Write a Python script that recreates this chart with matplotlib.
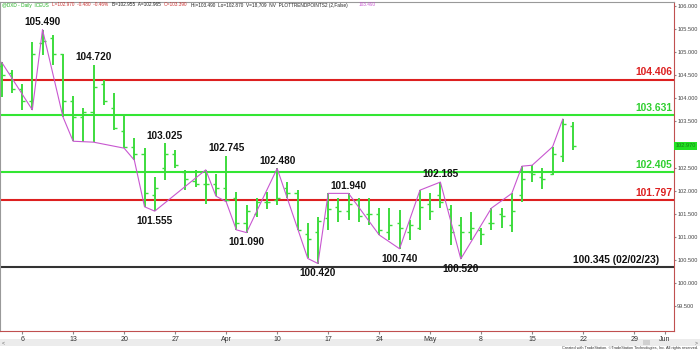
import numpy as np
import pandas as pd
import matplotlib
matplotlib.use('Agg')
import matplotlib.pyplot as plt
import matplotlib.transforms as mtransforms
from matplotlib.patches import Rectangle
from matplotlib.text import Annotation

plt.rcParams['font.family'] = ['Liberation Sans', 'DejaVu Sans']

# daily bars, 2023-03-02 .. 2023-05-19
first_day = '2023-03-02'
last_slot = '2023-06-01'
highs = [104.78, 104.61, 104.30, 105.23, 105.49, 105.37, 104.97, 104.05, 103.79, 104.72,
         104.40, 104.11, 103.66, 103.13, 102.92, 102.30, 103.025, 102.88, 102.45, 102.45,
         102.45, 102.35, 102.745, 101.96, 101.68, 101.83, 101.98, 102.48, 102.19, 102.01,
         101.29, 101.42, 101.94, 101.83, 101.94, 101.83, 101.83, 101.62, 101.62, 101.58,
         101.36, 102.01, 101.94, 102.185, 101.69, 101.43, 101.54, 101.18, 101.62, 101.62,
         101.94, 102.53, 102.55, 102.50, 102.95, 103.55, 103.49]
lows = [104.03, 104.11, 103.75, 103.75, 104.94, 104.72, 103.60, 103.07, 103.06, 103.05,
        103.85, 103.31, 102.92, 102.66, 101.65, 101.555, 102.23, 102.48, 102.01, 102.08,
        101.72, 101.88, 101.76, 101.15, 101.09, 101.42, 101.60, 101.68, 101.83, 101.15,
        100.53, 100.42, 101.15, 101.33, 101.36, 101.33, 101.25, 101.04, 100.93, 100.74,
        100.93, 101.15, 101.36, 101.62, 100.82, 100.52, 100.93, 100.82, 101.15, 101.18,
        101.11, 101.76, 102.19, 102.03, 102.34, 102.63, 102.87]
opens = [104.70, 104.55, 104.20, 103.95, 105.20, 105.30, 104.95, 103.95, 103.60, 103.70,
         104.30, 103.80, 103.30, 102.95, 102.80, 101.90, 102.50, 102.80, 102.40, 102.20,
         102.15, 102.15, 102.05, 101.85, 101.30, 101.50, 101.75, 101.80, 102.05, 101.95,
         101.05, 101.10, 101.40, 101.65, 101.55, 101.80, 101.50, 101.50, 101.10, 101.30,
         101.10, 101.20, 101.70, 101.90, 101.60, 101.25, 101.10, 101.15, 101.30, 101.50,
         101.25, 101.90, 102.40, 102.30, 102.35, 102.75, 103.39]
closes = [104.50, 104.20, 103.95, 104.95, 105.25, 104.95, 103.95, 103.60, 103.70, 104.25,
          103.95, 103.35, 102.95, 102.80, 101.95, 102.05, 102.80, 102.55, 102.25, 102.15,
          102.15, 102.05, 101.80, 101.30, 101.55, 101.75, 101.75, 101.85, 101.95, 101.15,
          100.95, 101.35, 101.60, 101.55, 101.70, 101.45, 101.50, 101.15, 101.25, 101.20,
          101.25, 101.65, 101.55, 101.75, 101.10, 101.10, 101.20, 101.05, 101.30, 101.45,
          101.55, 102.25, 102.35, 102.25, 102.80, 103.45, 102.97]

# swing line (bar index, H/L)
zz_idx = [0, 3, 4, 6, 7, 9, 12, 13, 14, 15, 20, 21, 22, 23, 24, 27, 30, 31, 32, 34,
          37, 39, 41, 43, 45, 48, 50, 51, 52, 54, 55]
zz_side = ['H', 'L', 'H', 'L', 'L', 'L', 'L', 'L', 'L', 'L', 'H', 'L', 'L', 'L', 'L', 'H',
           'L', 'L', 'H', 'H', 'L', 'L', 'H', 'H', 'L', 'H', 'H', 'H', 'H', 'H', 'H']

# swing labels
lab_idx = [4, 9, 16, 15, 22, 24, 27, 31, 34, 39, 43, 45]
lab_side = ['H', 'H', 'H', 'L', 'H', 'L', 'H', 'L', 'H', 'L', 'H', 'L']

# horizontal levels
levels = [104.406, 103.631, 102.405, 101.797, 100.345]
level_text = ['104.406', '103.631', '102.405', '101.797', '100.345 (02/02/23)']
level_col = ['#dd2020', '#33e633', '#33e633', '#dd2020', '#333333']
level_txtcol = ['#dd2020', '#2fcf2f', '#2fcf2f', '#dd2020', '#111111']

tick_dates = ['2023-03-06', '2023-03-13', '2023-03-20', '2023-03-27', '2023-04-03',
              '2023-04-10', '2023-04-17', '2023-04-24', '2023-05-01', '2023-05-08',
              '2023-05-15', '2023-05-22', '2023-05-29', '2023-06-01']
tick_labels = ['6', '13', '20', '27', 'Apr', '10', '17', '24', 'May', '8', '15', '22', '29', 'Jun']
price_ticks = [99.5, 100.0, 100.5, 101.0, 101.5, 102.0, 102.5, 103.0, 103.5, 104.0,
               104.5, 105.0, 105.5, 106.0]
last_price = 102.970

header_parts = ['@DXD - Daily  ICEUS', 'L=102.970  -0.480  -0.46%', 'B=102.955  A=102.965',
                'O=103.390', 'Hi=103.490  Lo=102.870  V=18,709  NV  PLOTTRENDPOINTS2 (2,False)',
                '103.490']
header_cols = ['#22b022', '#cc3333', '#222222', '#cc3333', '#222222', '#c857d0']

days = pd.bdate_range(first_day, last_slot)
x = np.arange(len(highs))
H = np.array(highs)
L = np.array(lows)

fig = plt.figure(figsize=(7.0, 3.51), dpi=100)
ax = fig.add_axes([0, 20 / 351, 674 / 700, 329 / 351])

# OHLC bars
bar_col = '#3ddc3d'
ax.vlines(x, L, H, color=bar_col, lw=1.4, zorder=3)
ax.hlines(opens, x - 0.3, x, color=bar_col, lw=1.0, zorder=3)
ax.hlines(closes, x, x + 0.3, color=bar_col, lw=1.0, zorder=3)

for lv, c in zip(levels, level_col):
    ax.axhline(lv, color=c, lw=1.5, zorder=2)

zz_y = [H[i] if s == 'H' else L[i] for i, s in zip(zz_idx, zz_side)]
ax.plot(zz_idx, zz_y, color='#c857d0', lw=0.8, zorder=4)

for i, s in zip(lab_idx, lab_side):
    if s == 'H':
        ax.annotate('%.3f' % H[i], (i, H[i]), xytext=(0, 2), textcoords='offset points',
                    ha='center', va='bottom', fontsize=7.2, fontweight='bold', color='#111111')
    else:
        ax.annotate('%.3f' % L[i], (i, L[i]), xytext=(0, -3.5), textcoords='offset points',
                    ha='center', va='top', fontsize=7.2, fontweight='bold', color='#111111')

trans = mtransforms.blended_transform_factory(ax.transAxes, ax.transData)
for k, (lv, t, c) in enumerate(zip(levels, level_text, level_txtcol)):
    xr = 0.997 if k < 4 else 659 / 674
    ax.annotate(t, (xr, lv), xycoords=trans, xytext=(0, 1.5), textcoords='offset points',
                ha='right', va='bottom', fontsize=7.4, fontweight='bold', color=c)

ax.set_xlim(-0.167, 65.9)
ax.set_ylim(98.958, 106.087)

tick_pos = days.get_indexer(pd.to_datetime(tick_dates))
ax.set_xticks(tick_pos)
ax.set_xticklabels(tick_labels)
ax.yaxis.tick_right()
ax.set_yticks(price_ticks)
# the last-price tag hides the label nearest to it
ax.set_yticklabels(['' if abs(v - last_price) < 0.1 else '%.3f' % v for v in price_ticks])
ax.tick_params(axis='x', labelsize=5, length=2, pad=1.5, color='#888888', labelcolor='#333333')
ax.tick_params(axis='y', labelsize=4.1, length=1.5, pad=0.8, color='#888888', labelcolor='#444444')

ax.spines['left'].set_color('#999999')
ax.spines['top'].set_color('#999999')
ax.spines['right'].set_color('#c05050')
ax.spines['bottom'].set_color('#c05050')
for sp in ax.spines.values():
    sp.set_linewidth(0.8)

# last price tag
ax.annotate('%.3f' % last_price, (1.0, last_price), xycoords=trans, xytext=(1, 0),
            textcoords='offset points', ha='left', va='center', fontsize=4.1, color='#1a7a1a',
            bbox=dict(boxstyle='square,pad=0.3', fc='#22e022', ec='none'),
            annotation_clip=False)

# header line, pieces placed one after another
txt = fig.text(2 / 700, 1 - 5 / 351, header_parts[0], fontsize=3.4,
               color=header_cols[0], va='center')
for k in range(1, len(header_parts)):
    gap = 8 if k == len(header_parts) - 1 else 2.5
    txt = fig.add_artist(Annotation(header_parts[k], xy=(1, 0.5), xycoords=txt,
                                    xytext=(gap, 0), textcoords='offset points',
                                    fontsize=3.4, color=header_cols[k],
                                    ha='left', va='center'))

# scrollbar strip and footer
fig.add_artist(Rectangle((0, 5 / 351), 1, 7 / 351, transform=fig.transFigure,
                         fc='#ececec', ec='none', zorder=0))
fig.add_artist(Rectangle((643 / 700, 6 / 351), 7 / 700, 5 / 351, transform=fig.transFigure,
                         fc='#d0d0d0', ec='none', zorder=1))
fig.text(2 / 700, 8.5 / 351, '<', fontsize=3.8, color='#666666', va='center')
fig.text(695 / 700, 8.5 / 351, '>', fontsize=3.8, color='#666666', va='center')
fig.text(698 / 700, 0.5 / 351, 'Created with TradeStation. \u00a9TradeStation Technologies, Inc. All rights reserved.',
         fontsize=2.8, color='#333333', ha='right', va='bottom', zorder=3)

fig.savefig('out.png', dpi=100)
